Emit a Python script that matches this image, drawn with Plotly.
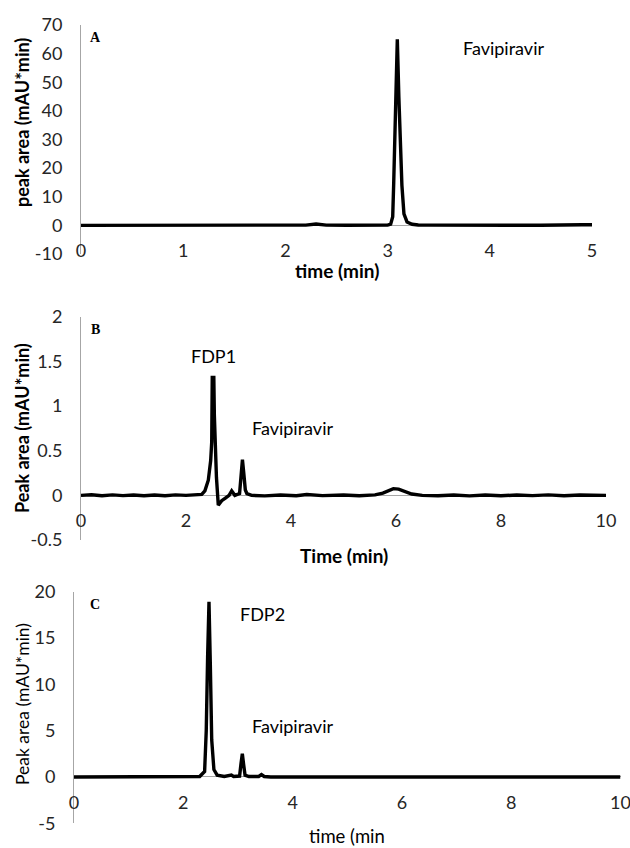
import plotly.graph_objects as go

W, H = 630, 848

# ---- chromatogram A: favipiravir standard (0-5 min) ----
time_a = [0.0, 0.5, 1.0, 1.5, 2.0, 2.2, 2.3, 2.4, 2.6, 2.9, 3.0, 3.03, 3.05,
          3.06, 3.075, 3.095, 3.11, 3.125, 3.14, 3.16, 3.19, 3.24, 3.3, 3.4,
          3.6, 4.0, 4.5, 4.9, 5.0]
signal_a = [0.0, 0.0, 0.0, 0.0, 0.05, 0.1, 0.5, 0.1, 0.05, 0.0, 0.1, 0.4, 3.0,
            15.0, 40.0, 65.0, 45.0, 30.0, 14.0, 4.0, 1.2, 0.4, 0.15, 0.1,
            0.05, 0.05, 0.05, 0.2, 0.2]

# ---- chromatogram B: degradation sample with FDP1 (0-10 min) ----
time_b = [0.0, 0.2, 0.4, 0.6, 0.8, 1.0, 1.2, 1.4, 1.6, 1.8, 2.0, 2.2, 2.3,
          2.36, 2.425, 2.47, 2.49, 2.50, 2.53, 2.54, 2.58, 2.615, 2.68, 2.75,
          2.82, 2.87, 2.93, 3.02, 3.05, 3.075, 3.10, 3.13, 3.16, 3.25, 3.5,
          3.8, 4.1, 4.3, 4.6, 5.0, 5.3, 5.6, 5.75, 5.85, 5.95, 6.05, 6.15,
          6.3, 6.5, 6.8, 7.1, 7.4, 7.7, 8.0, 8.3, 8.6, 8.9, 9.2, 9.5, 9.8, 10.0]
signal_b = [0.0, 0.006, -0.004, 0.005, -0.003, 0.004, -0.005, 0.003, -0.004,
            0.005, 0.0, 0.004, 0.01, 0.05, 0.17, 0.39, 0.6, 1.32, 1.32, 0.9,
            0.2, -0.11, -0.06, -0.03, 0.0, 0.05, 0.0, 0.02, 0.2, 0.40, 0.25,
            0.06, 0.02, 0.0, -0.006, 0.004, -0.004, 0.01, -0.003, 0.004,
            -0.004, 0.005, 0.025, 0.055, 0.075, 0.07, 0.045, 0.015, 0.0,
            -0.005, 0.004, -0.006, 0.003, -0.005, 0.004, -0.003, 0.005,
            -0.004, 0.003, -0.002, 0.0]

# ---- chromatogram C: degradation sample with FDP2 (0-10 min) ----
time_c = [0.0, 1.0, 2.0, 2.3, 2.39, 2.42, 2.445, 2.47, 2.495, 2.52, 2.56,
          2.62, 2.75, 2.85, 2.88, 2.92, 3.03, 3.055, 3.08, 3.105, 3.13, 3.2,
          3.38, 3.43, 3.48, 3.6, 4.0, 6.0, 8.0, 10.0]
signal_c = [0.0, 0.0, 0.0, 0.05, 0.6, 5.0, 13.0, 18.9, 12.0, 4.0, 0.8, 0.2,
            0.05, 0.1, 0.2, 0.05, 0.1, 1.4, 2.5, 1.3, 0.2, 0.05, 0.05, 0.25,
            0.05, 0.0, 0.0, 0.0, 0.0, 0.0]

x_ticks_a = [0, 1, 2, 3, 4, 5]
y_ticks_a = [-10, 0, 10, 20, 30, 40, 50, 60, 70]
y_labels_a = ["-10", "0", "10", "20", "30", "40", "50", "60", "70"]
x_ticks_bc = [0, 2, 4, 6, 8, 10]
y_ticks_b = [-0.5, 0, 0.5, 1, 1.5, 2]
y_labels_b = ["-0.5", "0", "0.5", "1", "1.5", "2"]
y_ticks_c = [-5, 0, 5, 10, 15, 20]
y_labels_c = ["-5", "0", "5", "10", "15", "20"]

FONT = "Lato"
AX_GREY = "#a6a6a6"
TXT = "#262626"
LINE_W = 3.4


def px(x):
    return x / W


def py(y):
    return 1 - y / H


fig = go.Figure()
fig.add_trace(go.Scatter(x=time_a, y=signal_a, mode="lines", xaxis="x", yaxis="y",
                         line=dict(color="black", width=LINE_W), showlegend=False))
fig.add_trace(go.Scatter(x=time_b, y=signal_b, mode="lines", xaxis="x2", yaxis="y2",
                         line=dict(color="black", width=LINE_W), showlegend=False))
fig.add_trace(go.Scatter(x=time_c, y=signal_c, mode="lines", xaxis="x3", yaxis="y3",
                         line=dict(color="black", width=LINE_W), showlegend=False))


def xaxis(dom, rng, ticks, zero_px):
    # tick labels sit just under the y = 0 line
    return dict(domain=[px(dom[0]), px(dom[1])], range=rng, tickvals=ticks,
                showgrid=False, zeroline=False, showline=False,
                anchor="free", position=py(zero_px), automargin=False,
                ticklabeloverflow="allow",
                ticks="outside", ticklen=9, tickcolor="rgba(0,0,0,0)",
                tickfont=dict(family=FONT, size=18, color=TXT))


def yaxis(dom, rng, ticks, labels, anchor):
    return dict(domain=[py(dom[1]), py(dom[0])], range=rng,
                tickvals=ticks, ticktext=labels, automargin=False,
                ticklabeloverflow="allow",
                anchor=anchor, showgrid=False, zeroline=True,
                zerolinecolor=AX_GREY, zerolinewidth=1,
                showline=True, linecolor=AX_GREY, linewidth=1,
                ticks="outside", ticklen=14, tickcolor="rgba(0,0,0,0)",
                tickfont=dict(family=FONT, size=18, color=TXT))


fig.update_layout(
    template="none",
    width=W, height=H,
    margin=dict(l=0, r=0, t=0, b=0, pad=0, autoexpand=False),
    paper_bgcolor="white", plot_bgcolor="white",
    xaxis=xaxis((81, 592), [0, 5], x_ticks_a, 225.4),
    yaxis=yaxis((25, 254), [-10, 70], y_ticks_a, y_labels_a, "x"),
    xaxis2=xaxis((81, 606), [0, 10], x_ticks_bc, 495.3),
    yaxis2=yaxis((316.7, 540), [-0.5, 2], y_ticks_b, y_labels_b, "x2"),
    xaxis3=xaxis((74, 620.5), [0, 10], x_ticks_bc, 777),
    yaxis3=yaxis((591.7, 823.3), [-5, 20], y_ticks_c, y_labels_c, "x3"),
)


def label(text, x, y, size=18, bold=False, family=FONT, angle=0):
    fig.add_annotation(text=f"<b>{text}</b>" if bold else text,
                       x=px(x), y=py(y), xref="paper", yref="paper",
                       xanchor="center", yanchor="middle", showarrow=False,
                       textangle=angle,
                       font=dict(family=family, size=size, color="black"))


# axis titles
label("time (min)", 337, 270, size=19, bold=True)
label("peak area (mAU*min)", 22, 123, size=18, bold=True, angle=-90)
label("Time (min)", 344, 555, size=19, bold=True)
label("Peak area (mAU*min)", 22, 428, size=18, bold=True, angle=-90)
label("time (min", 347, 836, size=18.5)
label("Peak area (mAU*min)", 22, 704, size=17.5, angle=-90)

# panel letters
label("A", 95, 37, size=14, bold=True, family="Liberation Serif")
label("B", 95, 330, size=14, bold=True, family="Liberation Serif")
label("C", 95, 604, size=14, bold=True, family="Liberation Serif")

# peak labels
label("Favipiravir", 503, 48)
label("FDP1", 213, 356)
label("Favipiravir", 292, 428)
label("FDP2", 262, 614)
label("Favipiravir", 292, 726)

fig.write_html("out.html")
